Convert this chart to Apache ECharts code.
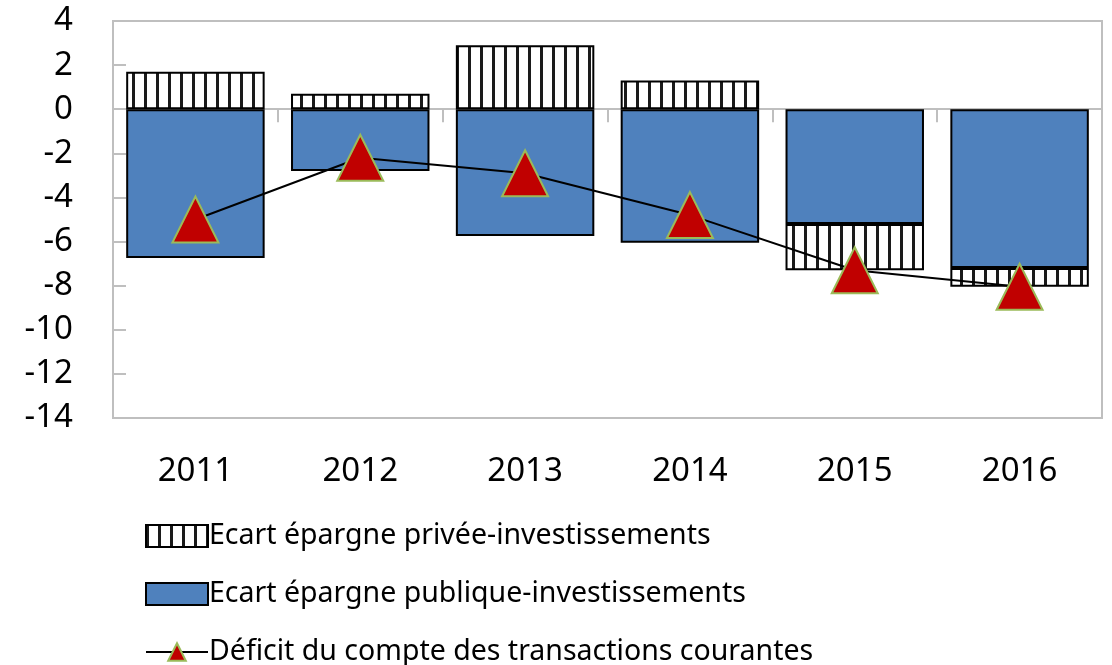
<!DOCTYPE html>
<html>
<head>
<meta charset="utf-8">
<script src="https://cdn.jsdelivr.net/npm/echarts@6/dist/echarts.min.js"></script>
<style>
  html, body { margin: 0; padding: 0; background: #fff; }
  #chart { width: 1112px; height: 665px; }
</style>
</head>
<body>
<div id="chart"></div>
<script>
var years = ['2011', '2012', '2013', '2014', '2015', '2016'];
var privateGap = [1.7, 0.7, 2.9, 1.3, -2.1, -0.85];
var publicGap = [-6.75, -2.8, -5.75, -6.05, -5.2, -7.2];
var deficit = [-5.0, -2.2, -2.9, -4.8, -7.3, -8.05];
var yTicks = [-14, -12, -10, -8, -6, -4, -2, 0, 2, 4];

var FONT = '"Noto Sans", "Open Sans", sans-serif';

// hachures verticales pour l'epargne privee
function stripes() {
    var c = document.createElement('canvas');
    c.width = 12;
    c.height = 12;
    var ctx = c.getContext('2d');
    ctx.fillStyle = '#fff';
    ctx.fillRect(0, 0, 12, 12);
    ctx.fillStyle = '#1a1a1a';
    ctx.fillRect(0, 0, 3, 12);
    return c;
}

var myChart = echarts.init(document.getElementById('chart'));
var option = {
    animation: false,
    grid: {
        left: 113,
        top: 21,
        right: 10,
        bottom: 247,
        show: true,
        borderColor: '#bfbfbf',
        borderWidth: 2
    },
    legend: {
        orient: 'vertical',
        left: 140,
        top: 516,
        height: 150,
        itemWidth: 62,
        itemHeight: 22,
        itemGap: 28,
        data: [
            { name: 'Ecart épargne privée-investissements', icon: 'rect' },
            { name: 'Ecart épargne publique-investissements', icon: 'rect' },
            'Déficit du compte des transactions courantes'
        ],
        textStyle: {
            fontFamily: FONT,
            fontSize: 28.5,
            lineHeight: 30,
            color: '#000',
            padding: [0, 0, 0, -4]
        }
    },
    xAxis: [{
        type: 'category',
        data: years,
        position: 'bottom',
        axisLine: { onZero: false, show: false },
        axisTick: { show: false },
        axisLabel: {
            margin: 37,
            fontFamily: FONT,
            fontSize: 33,
            color: '#000'
        }
    }, {
        type: 'category',
        data: years,
        position: 'bottom',
        axisLine: { onZero: true, lineStyle: { color: '#bfbfbf', width: 2 } },
        axisTick: { show: true, length: 13, lineStyle: { color: '#bfbfbf', width: 2 } },
        axisLabel: { show: false }
    }],
    yAxis: {
        type: 'value',
        min: -14,
        max: 4,
        interval: 2,
        splitLine: { show: false },
        axisLine: { show: true, lineStyle: { color: '#bfbfbf', width: 2 } },
        axisTick: { show: true, inside: true, length: 13, lineStyle: { color: '#bfbfbf', width: 2 } },
        axisLabel: {
            margin: 40,
            fontFamily: FONT,
            fontSize: 33,
            color: '#000',
            formatter: function (v) { return yTicks.indexOf(v) >= 0 ? String(v) : ''; }
        }
    },
    series: [{
        name: 'Ecart épargne publique-investissements',
        type: 'bar',
        stack: 'gap',
        data: publicGap,
        barCategoryGap: '16%',
        itemStyle: {
            color: '#4f81bd',
            borderColor: '#000',
            borderWidth: 2
        }
    }, {
        name: 'Ecart épargne privée-investissements',
        type: 'bar',
        stack: 'gap',
        data: privateGap,
        barCategoryGap: '16%',
        itemStyle: {
            color: { image: stripes(), repeat: 'repeat' },
            borderColor: '#000',
            borderWidth: 2
        }
    }, {
        name: 'Déficit du compte des transactions courantes',
        type: 'line',
        data: deficit,
        symbol: 'triangle',
        symbolSize: 46,
        z: 5,
        lineStyle: { color: '#000', width: 2 },
        itemStyle: {
            color: '#c00000',
            borderColor: '#9bbb59',
            borderWidth: 2
        }
    }]
};
myChart.setOption(option);
</script>
</body>
</html>
